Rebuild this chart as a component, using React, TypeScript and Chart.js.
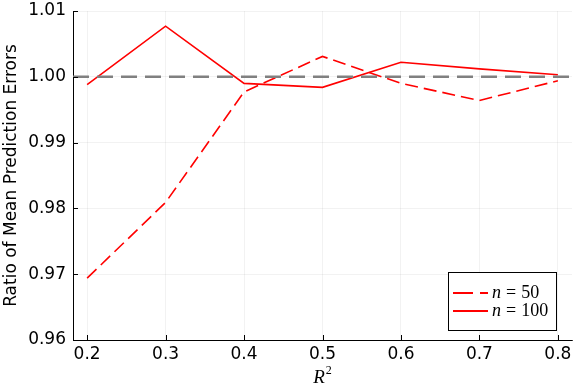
import React, { useEffect, useRef } from "react";
import { Chart, registerables } from "chart.js";

Chart.register(...registerables);

const r2Values = [0.2, 0.3, 0.4, 0.5, 0.6, 0.7, 0.8];
const ratioN50 = [0.9694, 0.9809, 0.9977, 1.0031, 0.999, 0.9964, 0.9994];
const ratioN100 = [0.9988, 1.0077, 0.999, 0.9984, 1.0022, 1.0012, 1.0003];
const referenceLevel = 1.0;
const xTicks = [0.2, 0.3, 0.4, 0.5, 0.6, 0.7, 0.8];
const yTicks = [0.96, 0.97, 0.98, 0.99, 1.0, 1.01];
const legendLabels = ["50", "100"];
const xTitleBase = "R";
const xTitleSup = "2";

const RED = "rgb(255,0,0)";

const extrasPlugin = {
  id: "extras",
  afterDatasetsDraw(chart: any) {
    const { ctx, chartArea, scales } = chart;
    const y = scales.y.getPixelForValue(referenceLevel);
    ctx.save();
    ctx.strokeStyle = "rgb(128,128,128)";
    ctx.lineWidth = 2.5;
    ctx.setLineDash([16, 8]);
    ctx.beginPath();
    ctx.moveTo(chartArea.left, y);
    ctx.lineTo(chartArea.right, y);
    ctx.stroke();
    ctx.restore();
  },
  afterDraw(chart: any) {
    const { ctx, chartArea, scales } = chart;
    ctx.save();
    // inward ticks
    ctx.strokeStyle = "#000";
    ctx.lineWidth = 1;
    ctx.beginPath();
    for (const v of xTicks) {
      const x = Math.round(scales.x.getPixelForValue(v)) + 0.5;
      ctx.moveTo(x, chartArea.bottom);
      ctx.lineTo(x, chartArea.bottom - 5);
    }
    for (const v of yTicks) {
      const y = Math.round(scales.y.getPixelForValue(v)) + 0.5;
      ctx.moveTo(chartArea.left, y);
      ctx.lineTo(chartArea.left + 5, y);
    }
    ctx.stroke();

    // x title with superscript
    ctx.fillStyle = "#000";
    ctx.textBaseline = "alphabetic";
    ctx.textAlign = "left";
    ctx.font = "italic 19px 'Liberation Serif'";
    const rw = ctx.measureText(xTitleBase).width;
    ctx.font = "12px 'Liberation Serif'";
    const sw = ctx.measureText(xTitleSup).width;
    const cx = (chartArea.left + chartArea.right) / 2;
    const startX = cx - (rw + sw + 1) / 2;
    const baseY = chart.height - 6;
    ctx.font = "italic 19px 'Liberation Serif'";
    ctx.fillText(xTitleBase, startX, baseY);
    ctx.font = "12px 'Liberation Serif'";
    ctx.fillText(xTitleSup, startX + rw + 1, baseY - 9);

    // legend
    const w = 108;
    const h = 58;
    const bx = chartArea.right - 16 - w;
    const by = chartArea.bottom - 10 - h;
    ctx.fillStyle = "#fff";
    ctx.fillRect(bx, by, w, h);
    ctx.strokeStyle = "#000";
    ctx.lineWidth = 1;
    ctx.strokeRect(bx + 0.5, by + 0.5, w, h);
    const rows = [
      { dash: [20, 7], label: legendLabels[0] },
      { dash: [], label: legendLabels[1] },
    ];
    rows.forEach((r, i) => {
      const cy = by + 21 + i * 18;
      ctx.strokeStyle = RED;
      ctx.lineWidth = 1.8;
      ctx.setLineDash(r.dash);
      ctx.beginPath();
      ctx.moveTo(bx + 5, cy);
      ctx.lineTo(bx + 40, cy);
      ctx.stroke();
      ctx.setLineDash([]);
      ctx.fillStyle = "#000";
      ctx.textBaseline = "middle";
      ctx.textAlign = "left";
      let tx = bx + 44;
      ctx.font = "italic 18px 'Liberation Serif'";
      ctx.fillText("n", tx, cy);
      tx += ctx.measureText("n").width + 5;
      ctx.font = "18px 'Liberation Serif'";
      ctx.fillText("=", tx, cy);
      tx += ctx.measureText("=").width + 5;
      ctx.fillText(r.label, tx, cy);
    });
    ctx.restore();
  },
};

export default function App() {
  const ref = useRef<HTMLCanvasElement>(null);
  useEffect(() => {
    document.body.style.margin = "0";
    const canvas = ref.current!;
    const chart = new Chart(canvas, {
      type: "line",
      data: {
        datasets: [
          {
            label: "n = 50",
            data: r2Values.map((x, i) => ({ x, y: ratioN50[i] })),
            borderColor: RED,
            borderWidth: 1.6,
            borderDash: [13, 6],
            pointRadius: 0,
            tension: 0,
            fill: false,
          },
          {
            label: "n = 100",
            data: r2Values.map((x, i) => ({ x, y: ratioN100[i] })),
            borderColor: RED,
            borderWidth: 1.6,
            pointRadius: 0,
            tension: 0,
            fill: false,
          },
        ],
      },
      options: {
        animation: false,
        responsive: false,
        layout: { padding: { top: 11, right: 12, left: 0, bottom: 0 } },
        plugins: { legend: { display: false }, tooltip: { enabled: false } },
        scales: {
          x: {
            type: "linear",
            min: 0.182,
            max: 0.818,
            afterBuildTicks: (s: any) => {
              s.ticks = xTicks.map((v) => ({ value: v }));
            },
            afterFit: (s: any) => {
              s.height = 49;
              s.paddingLeft = 0;
              s.paddingRight = 0;
            },
            grid: { color: "rgba(0,0,0,0.1)", lineWidth: 0.5, drawTicks: false },
            border: { display: true, color: "#000", width: 1 },
            ticks: {
              padding: 4,
              color: "#000",
              font: { family: "'DejaVu Sans'", size: 17 },
              callback: (v: any) => Number(v).toFixed(1),
              maxRotation: 0,
              autoSkip: false,
            },
            title: { display: false },
          },
          y: {
            type: "linear",
            min: 0.96,
            max: 1.01,
            afterBuildTicks: (s: any) => {
              s.ticks = yTicks.map((v) => ({ value: v }));
            },
            afterFit: (s: any) => {
              s.width = 73;
              s.paddingTop = 0;
              s.paddingBottom = 0;
            },
            grid: { color: "rgba(0,0,0,0.1)", lineWidth: 0.5, drawTicks: false },
            border: { display: true, color: "#000", width: 1 },
            ticks: {
              padding: 7,
              color: "#000",
              font: { family: "'DejaVu Sans'", size: 17 },
              callback: (v: any) => Number(v).toFixed(2),
              autoSkip: false,
            },
            title: {
              display: true,
              text: "Ratio of Mean Prediction Errors",
              color: "#000",
              font: { family: "'DejaVu Sans'", size: 17 },
              padding: { top: 1, bottom: 0 },
            },
          },
        },
      },
      plugins: [extrasPlugin],
    });
    return () => chart.destroy();
  }, []);
  return <canvas ref={ref} width={584} height={389} style={{ display: "block" }} />;
}
